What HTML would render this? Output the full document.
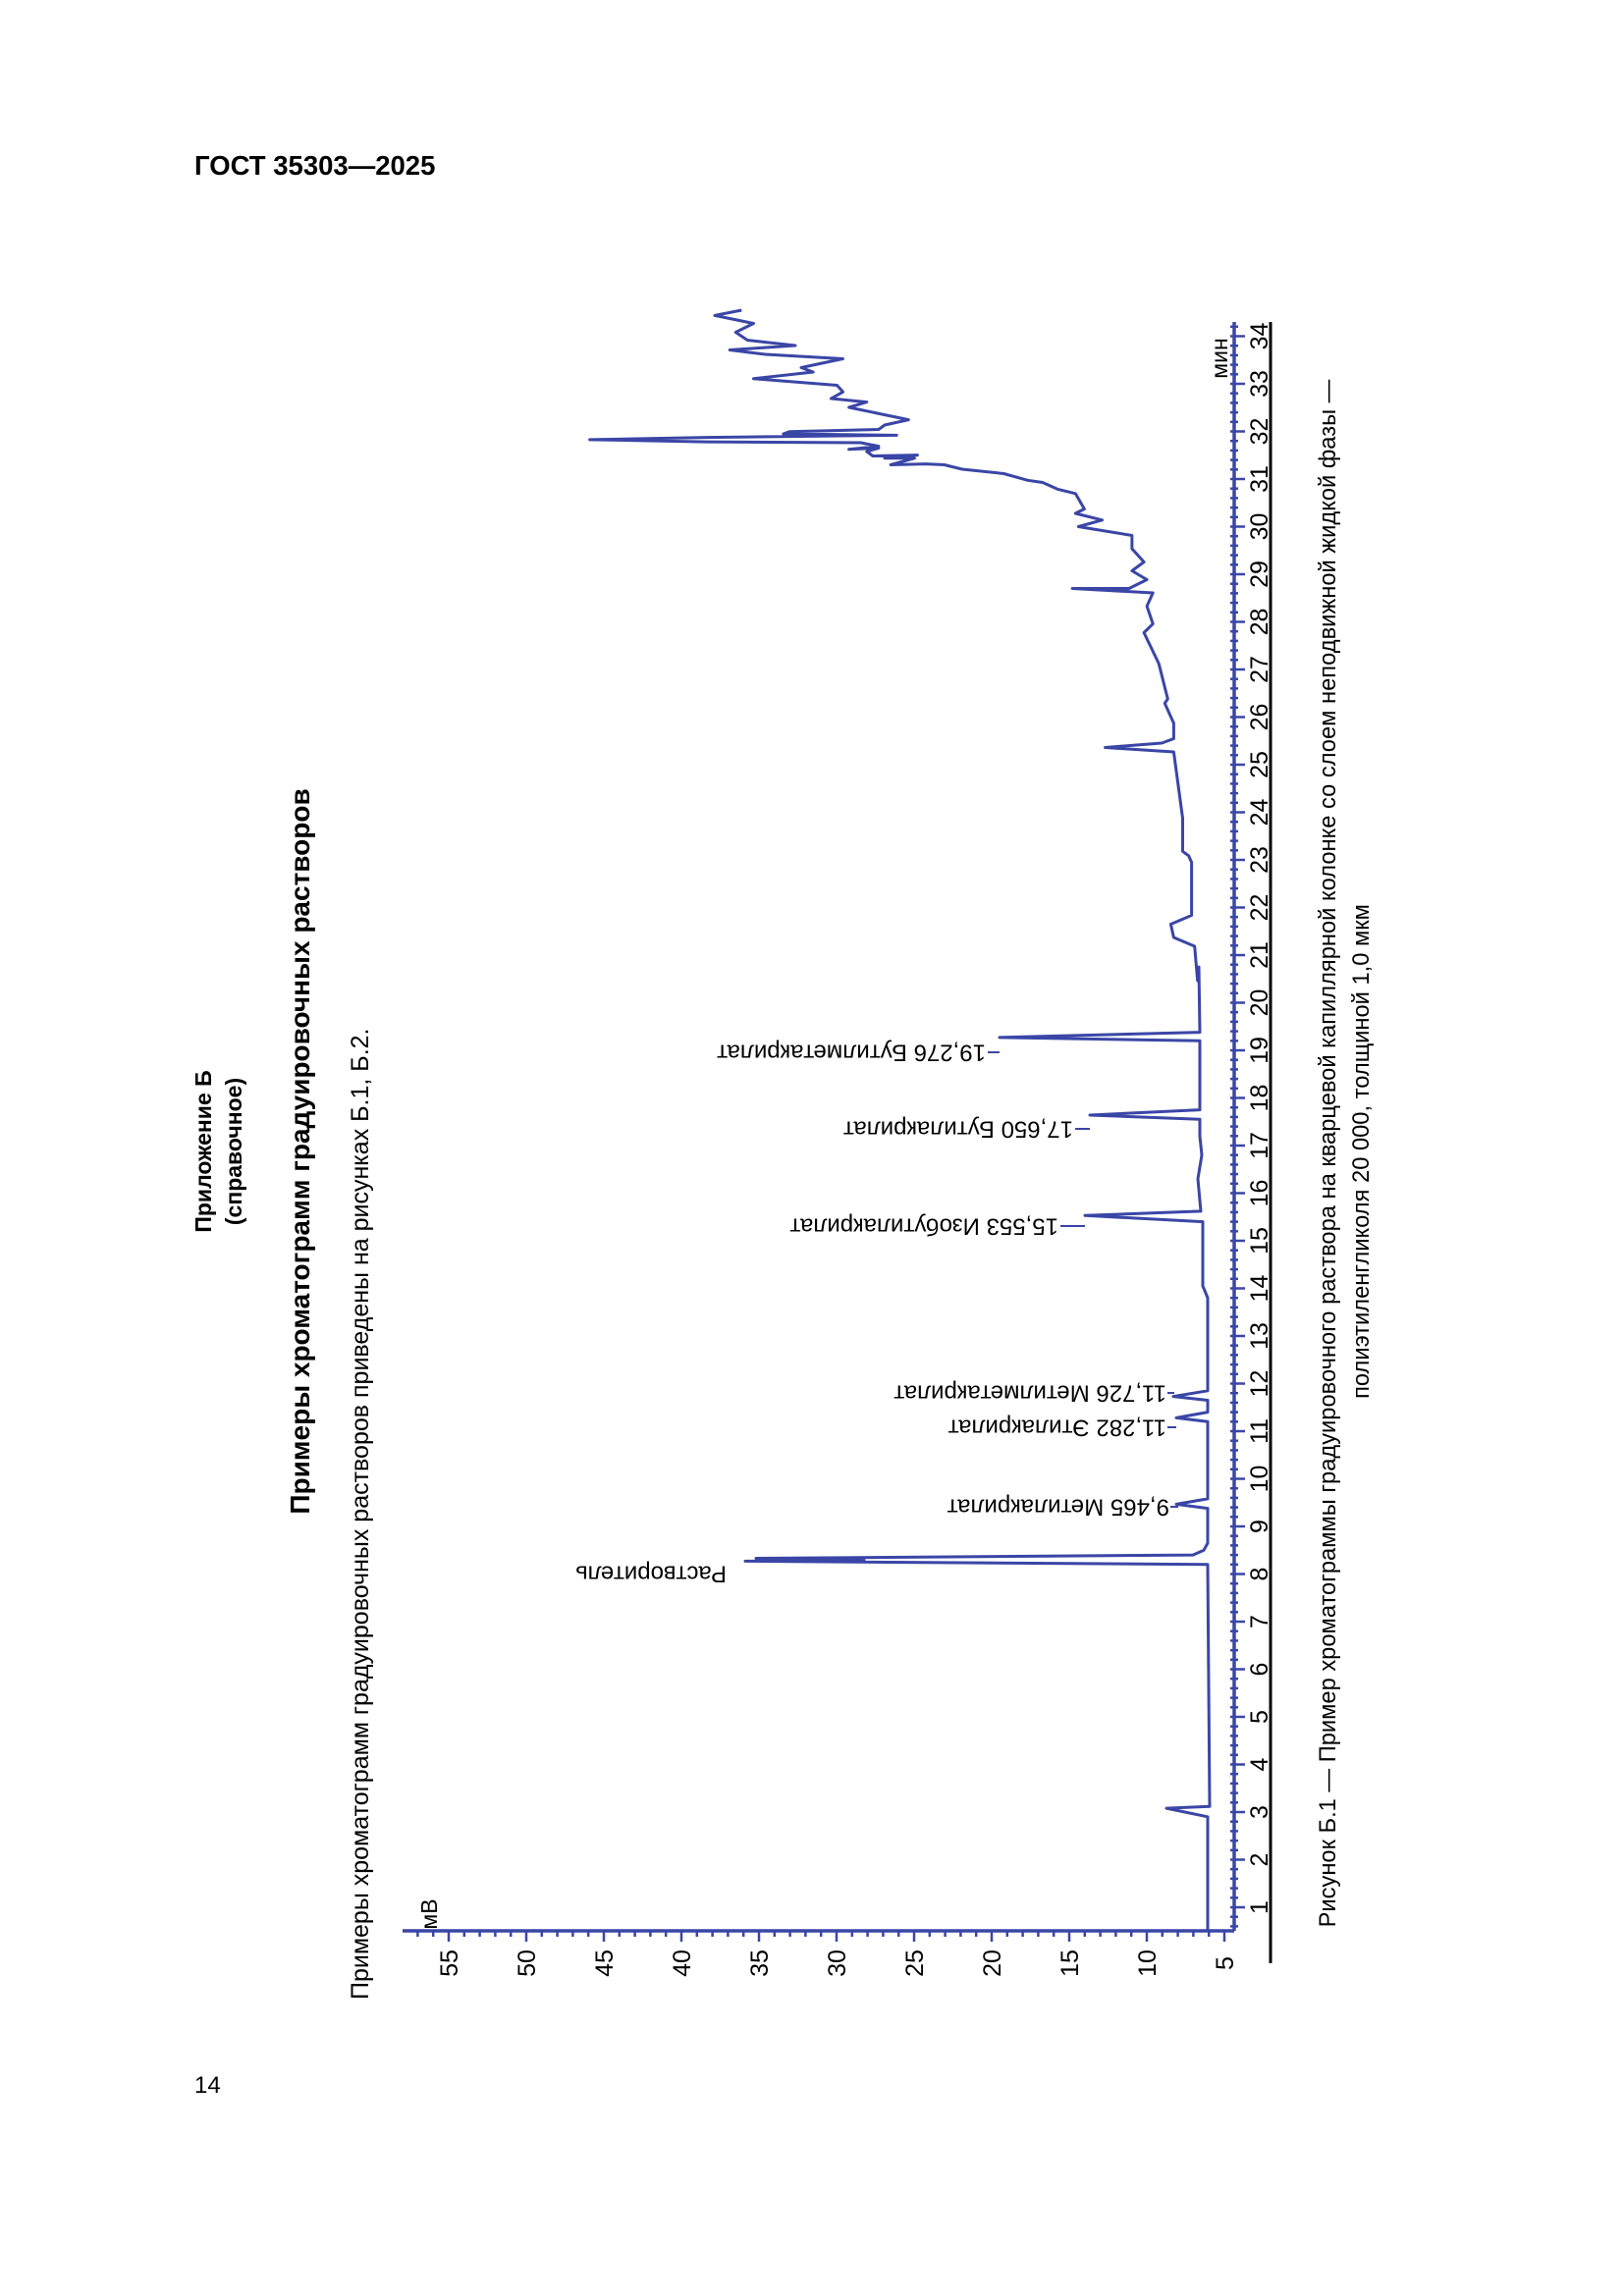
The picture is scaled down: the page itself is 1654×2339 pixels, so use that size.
<!DOCTYPE html>
<html><head><meta charset="utf-8"><style>
html,body{margin:0;padding:0;background:#fff}
svg{display:block}
text{font-family:"Liberation Sans","DejaVu Sans",sans-serif;fill:#000}
</style></head><body>
<svg id="s" width="1654" height="2339" viewBox="0 0 1654 2339" xmlns="http://www.w3.org/2000/svg">
<text x="198" y="178" font-size="27.5" font-weight="bold">ГОСТ 35303—2025</text>
<text x="198" y="2132" font-size="24">14</text>

<text transform="translate(215,1173) rotate(-90)" font-size="23" font-weight="bold" text-anchor="middle">Приложение Б</text>
<text transform="translate(246,1173) rotate(-90)" font-size="23" font-weight="bold" text-anchor="middle">(справочное)</text>
<text transform="translate(315,1173) rotate(-90)" font-size="28" font-weight="bold" text-anchor="middle">Примеры хроматограмм градуировочных растворов</text>
<text transform="translate(375,2037) rotate(-90)" font-size="25">Примеры хроматограмм градуировочных растворов приведены на рисунках Б.1, Б.2.</text>

<text transform="translate(1360,1175) rotate(-90)" font-size="23.7" text-anchor="middle">Рисунок Б.1 — Пример хроматограммы градуировочного раствора на кварцевой капиллярной колонке со слоем неподвижной жидкой фазы —</text>
<text transform="translate(1394,1173) rotate(-90)" font-size="23.7" text-anchor="middle">полиэтиленгликоля 20 000, толщиной 1,0 мкм</text>

<line x1="1294" y1="328" x2="1294" y2="2000" stroke="#000" stroke-width="3"/>
<text transform="translate(445,1950) rotate(-90)" font-size="23" text-anchor="middle">мВ</text>
<text transform="translate(1250,365) rotate(-90)" font-size="23" text-anchor="middle">мин</text>

<g id="ax" stroke="#3a46a6" fill="none"></g>
<g id="lab"></g>
<path id="tr" stroke="#3a46a6" stroke-width="3" fill="none" stroke-linejoin="round"/>

<g font-size="24">
<text transform="translate(740,1603) rotate(180)" dominant-baseline="central">Растворитель</text>
<text transform="translate(1191,1535) rotate(180)" dominant-baseline="central">9,465 Метилакрилат</text>
<text transform="translate(1188,1454) rotate(180)" dominant-baseline="central">11,282 Этилакрилат</text>
<text transform="translate(1188,1419) rotate(180)" dominant-baseline="central">11,726 Метилметакрилат</text>
<text transform="translate(1078,1249) rotate(180)" dominant-baseline="central">15,553 Изобутилакрилат</text>
<text transform="translate(1093,1150) rotate(180)" dominant-baseline="central">17,650 Бутилакрилат</text>
<text transform="translate(1004,1072) rotate(180)" dominant-baseline="central">19,276 Бутилметакрилат</text>
</g>
<g stroke="#3a46a6" stroke-width="2">
<line x1="1192" y1="1535" x2="1200" y2="1535"/>
<line x1="1189" y1="1454" x2="1198" y2="1454"/>
<line x1="1189" y1="1419" x2="1196" y2="1419"/>
<line x1="1080" y1="1249" x2="1105" y2="1249"/>
<line x1="1095" y1="1150" x2="1110" y2="1150"/>
<line x1="1006" y1="1072" x2="1018" y2="1072"/>
</g>
</svg>
<script>
var NS="http://www.w3.org/2000/svg";
function T(t){return 1943-(t-1)*48.5;}
function V(v){return 1247-(v-5)*15.8;}
var ax=document.getElementById('ax'),lab=document.getElementById('lab');
function L(x1,y1,x2,y2,w){var l=document.createElementNS(NS,'line');l.setAttribute('x1',x1);l.setAttribute('y1',y1);l.setAttribute('x2',x2);l.setAttribute('y2',y2);l.setAttribute('stroke-width',w);ax.appendChild(l);}
function TX(x,y,s){var t=document.createElementNS(NS,'text');t.setAttribute('transform','translate('+x+','+y+') rotate(-90)');t.setAttribute('font-size','25');t.setAttribute('text-anchor','middle');t.textContent=s;lab.appendChild(t);}
L(410,1967,1257,1967,3.5);
L(1257,328,1257,1967,3.5);
for(var v=5;v<=60;v++){var x=V(v);if(x<412)break;L(x,1967,x,1967+(v%5==0?11:6),2.5);if(v%5==0)TX(x+9,2000,String(v));}
for(var t=0.6;t<=34.6;t+=0.2){var y=T(t);if(y<330)break;var r=Math.round(t*10)/10;var maj=Math.abs(r-Math.round(r))<0.01;L(1253,y,maj?1268:1261,y,2.5);if(maj&&r>=1)TX(1291,y,String(Math.round(r)));}
var e=[[0.5,1230],[2.9,1230],[3.08,1188],[3.12,1232],[8.2,1230],[8.27,759],[8.29,880],[8.33,770],[8.4,1215],[8.5,1226],[8.65,1230],[9.38,1230],[9.465,1198],[9.58,1230],[11.2,1230],[11.28,1198],[11.4,1230],[11.65,1230],[11.73,1195],[11.85,1230],[13.8,1230],[14.05,1225],[15.4,1225],[15.53,1105],[15.62,1223],[16.3,1220],[16.8,1224],[17.2,1222],[17.55,1222],[17.64,1110],[17.75,1222],[19.2,1222],[19.27,1018],[19.38,1222],[20.75,1221]];
var z=[[1385,1568],[1380,1490],[1345,1470],[1340,1440],[1375,1420],[1375,1300],[1370,1285],[1360,1275],[1360,1200],[1345,1050],[1230,1040],[1325,1030],[1345,1020],[1345,985],[1330,940],[1335,930],[1320,850],[1295,780],[1310,760],[1300,720],[1310,690],[1175,680],[1270,680],[1300,660],[1275,640],[1295,620],[1275,590],[1275,560],[1185,540],[1225,525],[1180,510],[1195,500],[1180,465],[1150,455],[1125,440],[1100,435],[1060,420],[990,410],[960,400],[930,398],[870,400],[910,385],[860,385],[915,378],[840,380],[830,370],[850,362],[800,365],[850,358],[820,350],[560,348],[365,343],[560,338],[880,333],[690,330],[700,325],[850,320],[860,310],[900,298],[800,270],[830,258],[770,250],[790,235],[780,220],[640,205],[740,190],[720,180],[790,160],[660,150],[600,140],[710,130],[630,118],[610,100],[640,80],[575,62],[620,50]];
var d='';
e.forEach(function(p,i){d+=(i?'L':'M')+p[1].toFixed(1)+' '+T(p[0]).toFixed(1)+' ';});
z.forEach(function(p){d+='L'+(379+0.607*p[0]).toFixed(1)+' '+(293.5+0.45*p[1]).toFixed(1)+' ';});
document.getElementById('tr').setAttribute('d',d);
</script>
</body></html>
